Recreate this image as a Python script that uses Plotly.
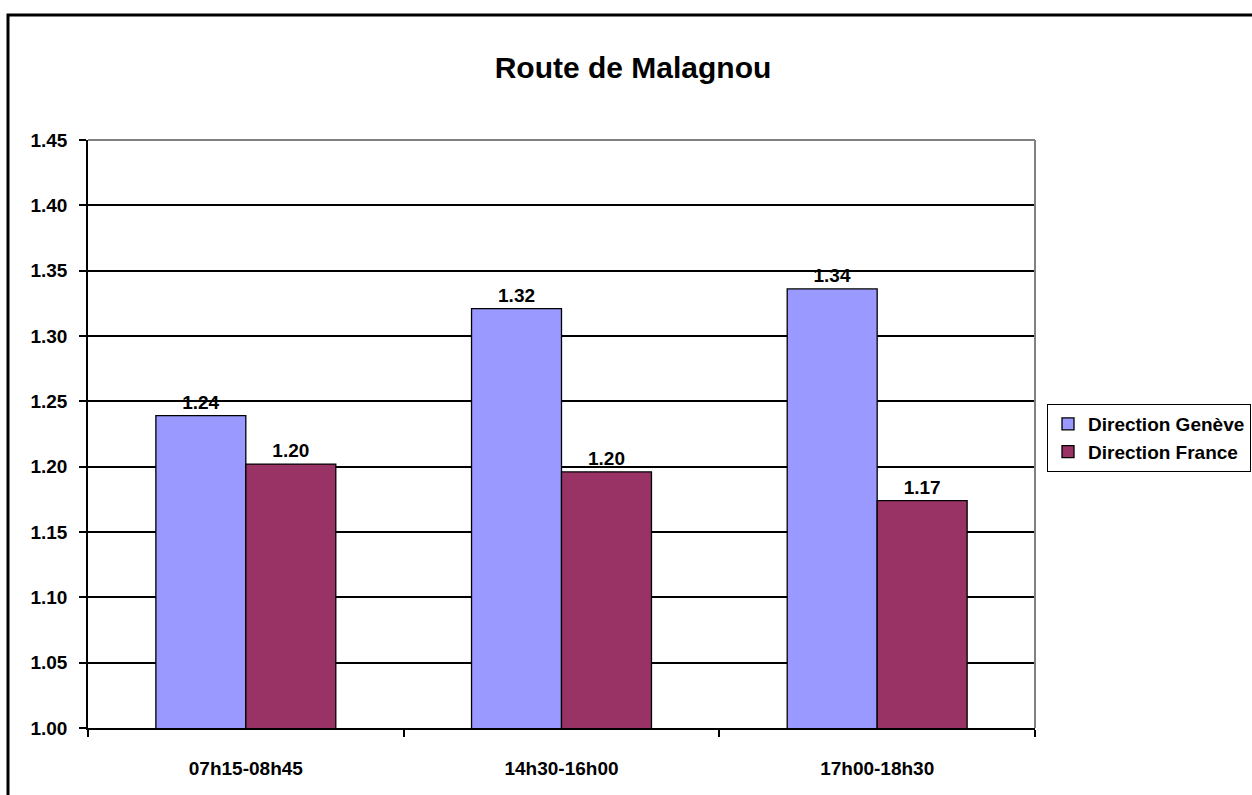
import plotly.graph_objects as go

# chart data
categories = ['07h15-08h45', '14h30-16h00', '17h00-18h30']
geneve = [1.239, 1.321, 1.336]
france = [1.202, 1.196, 1.174]
series_names = ['Direction Genève', 'Direction France']
y_ticks = [1.00, 1.05, 1.10, 1.15, 1.20, 1.25, 1.30, 1.35, 1.40, 1.45]

font_family = 'Arial, Liberation Sans, sans-serif'
bold19 = dict(family=font_family, size=19, color='black', weight='bold')

fig = go.Figure()

for name, vals, color in [(series_names[0], geneve, '#9999ff'),
                          (series_names[1], france, '#993366')]:
    fig.add_trace(
        go.Bar(
            name=name,
            x=categories,
            y=vals,
            marker=dict(color=color, line=dict(color='black', width=1.3)),
            texttemplate='%{y:.2f}',
            textposition='outside',
            textfont=bold19,
            cliponaxis=False
        )
    )

fig.update_layout(
    width=1252,
    height=795,
    margin=dict(l=88, r=217, t=140, b=67, autoexpand=False),
    paper_bgcolor='white',
    plot_bgcolor='white',
    barmode='group',
    bargap=0.43,
    bargroupgap=0,
    uniformtext=dict(minsize=19, mode='show'),
    title=dict(
        text='Route de Malagnou',
        x=633 / 1252,
        xanchor='center',
        y=1 - 67 / 795,
        yanchor='middle',
        font=dict(family=font_family, size=30, color='black', weight='bold')
    ),
    legend=dict(
        x=(1047 - 88) / 947,
        y=(728 - 404) / 588,
        xanchor='left',
        yanchor='top',
        bordercolor='black',
        borderwidth=1,
        bgcolor='white',
        font=dict(family=font_family, size=19, color='black', weight='bold'),
        itemwidth=30,
        tracegroupgap=0
    ),
    xaxis=dict(
        showline=True,
        linecolor='black',
        linewidth=1.5,
        ticks='outside',
        tickson='boundaries',
        ticklen=7,
        tickcolor='black',
        tickwidth=1.5,
        tickfont=bold19,
        showgrid=False,
        ticklabelstandoff=22
    ),
    yaxis=dict(
        range=[1.0, 1.45],
        tickvals=y_ticks,
        tickformat='.2f',
        showline=True,
        linecolor='black',
        linewidth=1.5,
        ticks='outside',
        ticklen=7,
        tickcolor='black',
        tickwidth=1.5,
        tickfont=bold19,
        showgrid=True,
        gridcolor='black',
        gridwidth=1.5,
        zeroline=False,
        ticklabelstandoff=8
    ),
    shapes=[
        # grey plot area border on top and right
        dict(type='line', xref='paper', yref='paper', x0=0, x1=1, y0=1, y1=1,
             line=dict(color='#808080', width=2)),
        dict(type='line', xref='paper', yref='paper', x0=1, x1=1, y0=0, y1=1,
             line=dict(color='#808080', width=2)),
        # outer chart frame
        dict(type='rect', xref='paper', yref='paper',
             x0=(8 - 88) / 947, x1=(1275 - 88) / 947,
             y0=(728 - 820) / 588, y1=(728 - 15) / 588,
             line=dict(color='black', width=3), layer='above'),
    ]
)

# drop the default page margin so the figure sits at the window origin
fig.write_html('out.html', config={'displayModeBar': False},
               post_script="document.body.style.margin = '0';")
